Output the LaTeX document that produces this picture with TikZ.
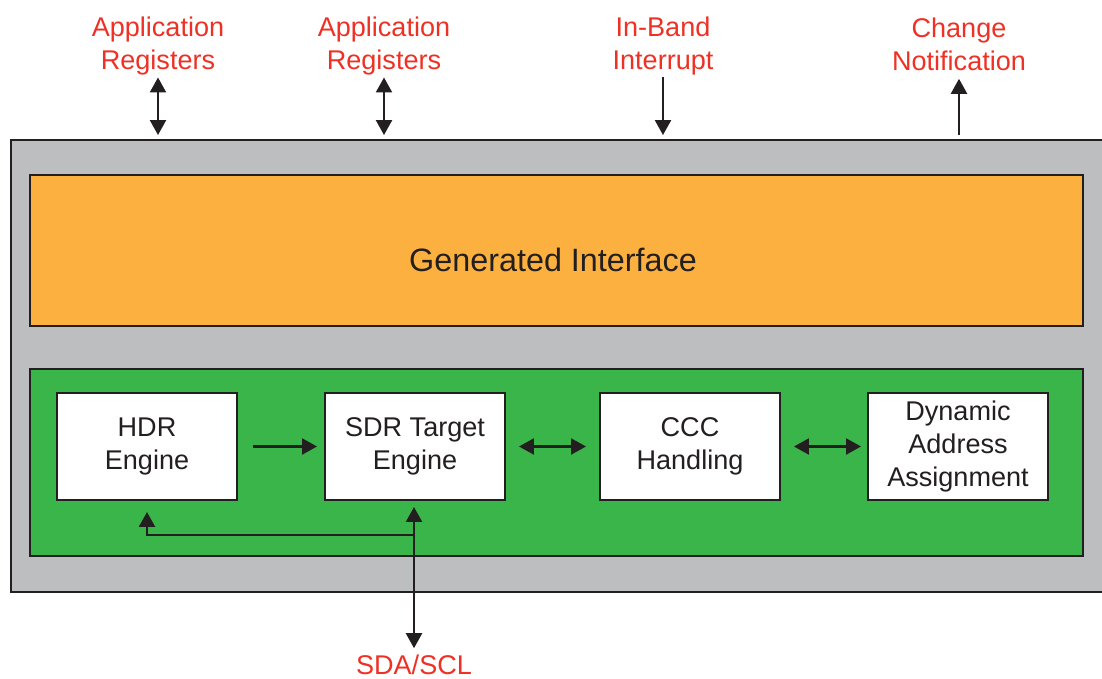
\documentclass[tikz,border=0pt]{standalone}
\usepackage{fontspec}
\setmainfont{Liberation Sans}
\usetikzlibrary{arrows.meta}
\definecolor{shellgray}{HTML}{BCBEC0}
\definecolor{ifaceorange}{HTML}{FBB040}
\definecolor{coregreen}{HTML}{39B54A}
\definecolor{sigred}{HTML}{EE3124}
\definecolor{inkblack}{HTML}{231F20}

\begin{document}
\begin{tikzpicture}[x=0.02cm, y=-0.02cm,
    panel/.style ={draw=inkblack, line width=0.04cm, inner sep=0pt},
    engine/.style ={panel, fill=white, minimum width=3.6cm, minimum height=2.14cm,
        align=center, text=inkblack, font=\fontsize{15.4}{18.8}\selectfont},
    signal/.style ={inner sep=0pt, align=center, text=sigred,
        font=\fontsize{15.4}{18.8}\selectfont},
    oneway/.style ={draw=inkblack, line width=0.045cm,
        -{Triangle[length=0.3cm, width=0.32cm]}},
    twoway/.style ={oneway, {Triangle[length=0.3cm, width=0.32cm]}-{Triangle[length=0.3cm, width=0.32cm]}}]
   \useasboundingbox (0,0) rectangle (1102,679);

   \node[panel, fill=shellgray, minimum width=22.22cm, minimum height=9.04cm] (shell) at (566.5,366) {};
   \node[panel, fill=ifaceorange, minimum width=21.06cm, minimum height=3.02cm] (iface) at (556.5,250.5) {};
   \node[text=inkblack, inner sep=0pt, font=\fontsize{18.4}{22}\selectfont] (ifacetext) at (553,260) {Generated Interface};
   \node[panel, fill=coregreen, minimum width=21.06cm, minimum height=3.74cm] (core) at (556.5,462.5) {};

   \node[engine] (hdr) at (147,446.5) {HDR\\Engine};
   \node[engine] (sdr) at (415,446.5) {SDR Target\\Engine};
   \node[engine] (ccc) at (690,446.5) {CCC\\Handling};
   \node[engine] (daa) at (958,446.5) {Dynamic\\Address\\Assignment};

   \node[signal] (regA) at (158,46) {Application\\Registers};
   \node[signal] (regB) at (384,46) {Application\\Registers};
   \node[signal] (ibi) at (663,46) {In-Band\\Interrupt};
   \node[signal] (notify) at (959,44) {Change\\Notification};
   \node[signal] (bus) at (414,665) {SDA/SCL};

   \coordinate (split) at (414,535);

   \draw[twoway, shorten <=0.04cm, shorten >=0.08cm] (regA.south) -- (regA.south |- shell.north);
   \draw[twoway, shorten <=0.04cm, shorten >=0.08cm] (regB.south) -- (regB.south |- shell.north);
   \draw[oneway, shorten <=0.04cm, shorten >=0.08cm] (ibi.south) -- (ibi.south |- shell.north);
   \draw[oneway, shorten <=0.08cm, shorten >=0.16cm] (notify.south |- shell.north) -- (notify.south);

   \draw[oneway, shorten <=0.3cm, shorten >=0.14cm] (hdr) -- (sdr);
   \draw[twoway, shorten <=0.26cm, shorten >=0.26cm] (sdr) -- (ccc);
   \draw[twoway, shorten <=0.26cm, shorten >=0.12cm] (ccc) -- (daa);

   \draw[twoway, shorten <=0.12cm, shorten >=0.13cm] (split |- sdr.south) -- (bus.north);
   \draw[oneway, shorten >=0.22cm] (split) -| (hdr.south);
 \end{tikzpicture}
\end{document}
